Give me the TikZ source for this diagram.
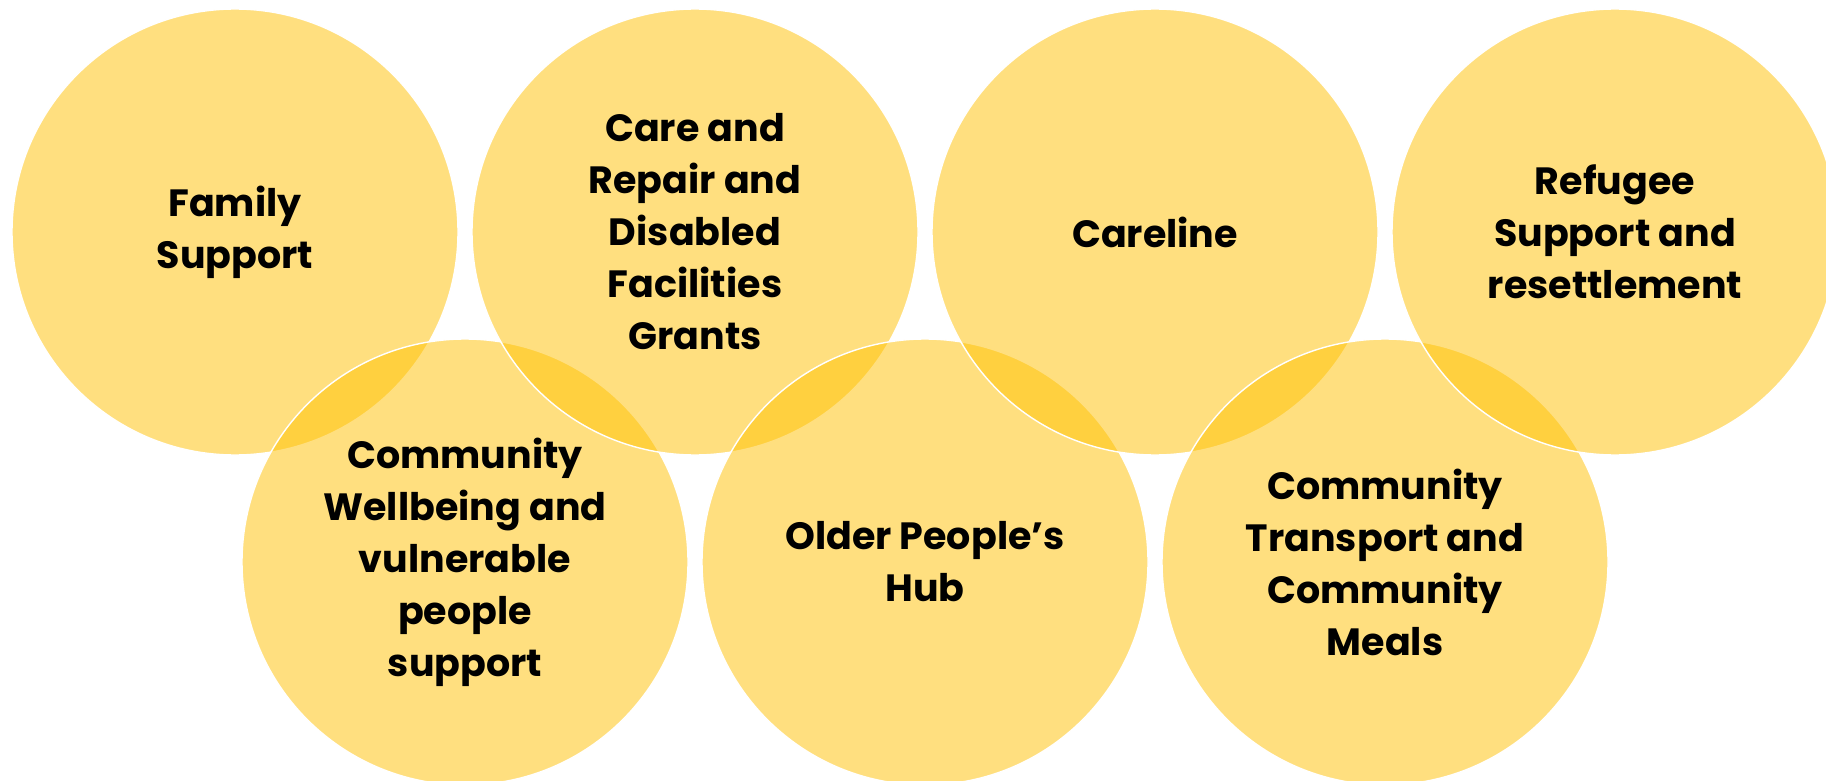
\documentclass[tikz,border=0pt]{standalone}
\usepackage{fontspec}
\setmainfont{Poppins}
\usepackage{xcolor}
\definecolor{amber}{HTML}{FFC000}

\begin{document}
\begin{tikzpicture}[x=0.5pt, y=-0.5pt,
  ring/.style={circle, minimum size=223pt, inner sep=0pt, fill=amber, fill opacity=0.5, text opacity=1,
    draw=white, line width=0.7pt, align=center, font=\fontsize{19}{26}\selectfont\bfseries}]
  \useasboundingbox (0,0) rectangle (1826,781);
  \draw
    (235,232) node[ring] (family) {Family\\Support}
    (465,562) node[ring] (wellbeing) {Community\\Wellbeing and\\vulnerable\\people\\support}
    (695,232) node[ring] (repair) {Care and\\Repair and\\Disabled\\Facilities\\Grants}
    (925,562) node[ring] (older) {Older People’s\\Hub}
    (1155,232) node[ring] (careline) {Careline}
    (1385,562) node[ring] (transport) {Community\\Transport and\\Community\\Meals}
    (1615,232) node[ring] (refugee) {Refugee\\Support and\\resettlement};
\end{tikzpicture}
\end{document}
